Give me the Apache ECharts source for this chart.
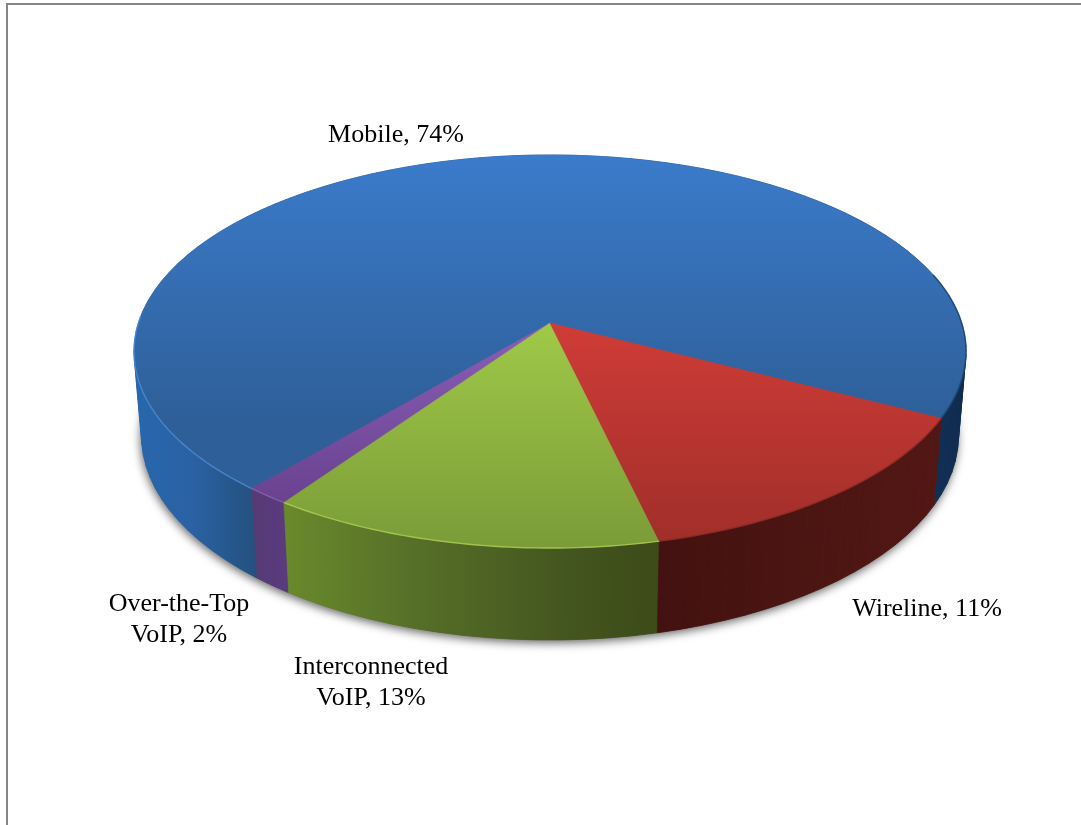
<!DOCTYPE html>
<html>
<head>
<meta charset="utf-8">
<style>html,body{margin:0;padding:0;background:#fff}#c{width:1081px;height:825px}</style>
<script src="https://cdn.jsdelivr.net/npm/echarts@6/dist/echarts.min.js"></script>
</head>
<body>
<div id="c"></div>
<script>
// Slices in drawing order, starting at the Mobile/Wireline boundary.
var categories = ['Mobile', 'Over-the-Top VoIP', 'Interconnected VoIP', 'Wireline'];
// Printed percentages (the labels of the reference).
var percentLabels = ['74%', '2%', '13%', '11%'];
// Share of the disc each slice visibly occupies.
var sliceShares = [71.5, 1.5, 13.3, 13.7];

var startAngle = 62.5;
var FONT = '"Liberation Serif","Times New Roman",serif';
var view = {cx: 550, cy: 323, rx: 411.6, ry: 192.4, k: 0.145,
            baseScaleX: 0.982, baseScaleY: 1.04, baseDrop: 83};

function topPoint(deg) {
  var t = deg * Math.PI / 180, u = Math.sin(t), v = Math.cos(t), w = 1 - view.k * v;
  return [view.cx + view.rx * u / w, view.cy + view.ry * v / w];
}
function basePoint(deg) {
  var p = topPoint(deg);
  return [view.cx + view.baseScaleX * (p[0] - view.cx),
          view.cy + view.baseDrop + view.baseScaleY * (p[1] - view.cy)];
}
function arc(fn, a, b) {
  var pts = [], n = Math.max(2, Math.ceil(Math.abs(b - a)));
  for (var i = 0; i <= n; i++) pts.push(fn(a + (b - a) * i / n));
  return pts;
}
function sliceRange(i) {
  var total = sliceShares.reduce(function (s, x) { return s + x; }, 0), a = startAngle;
  for (var j = 0; j < i; j++) a += sliceShares[j] / total * 360;
  return [a, a + sliceShares[i] / total * 360];
}
function hGrad(x, x2, stops) {
  return {type: 'linear', x: x, y: 0, x2: x2, y2: 0, global: true,
    colorStops: stops.map(function (s) { return {offset: s[0], color: s[1]}; })};
}
function vGrad(y, y2, c1, c2) {
  return {type: 'linear', x: 0, y: y, x2: 0, y2: y2, global: true,
    colorStops: [{offset: 0, color: c1}, {offset: 1, color: c2}]};
}
var wallFill = [
  hGrad(133, 966, [[0, '#2767ad'], [0.07, '#2a62a4'], [0.145, '#24517f'], [0.5, '#20477a'], [0.95, '#12325a'], [1, '#0f2a4d']]),
  hGrad(253, 288, [[0, '#553a74'], [1, '#5b3b80']]),
  hGrad(283, 659, [[0, '#6a8a2c'], [0.35, '#566f28'], [0.75, '#44561f'], [1, '#3c4b19']]),
  hGrad(659, 940, [[0, '#431110'], [0.5, '#4b1512'], [1, '#521714']])
];
var topFill = [
  vGrad(155, 420, '#3b7bcb', '#2e5f98'),
  vGrad(323, 500, '#8a5fb8', '#6a4290'),
  vGrad(323, 545, '#a0c948', '#7b9c38'),
  vGrad(323, 545, '#d03c37', '#a02e2a')
];
var rimColor = ['#4d8dd6', '#8a63b4', '#adcf55', '#8e2a26'];

function renderWall(params) {
  var i = params.dataIndex, r = sliceRange(i);
  var children = [];
  if (i === 0) {
    children.push({type: 'polygon', shape: {points: arc(basePoint, 0, 360)},
      style: {fill: '#555', shadowBlur: 10, shadowColor: 'rgba(0,0,0,0.6)', shadowOffsetX: -1, shadowOffsetY: 3}});
  }
  // the wall is built from narrow facets, so that its turn around the disc's sides fills in
  var step = 3, n = Math.ceil((r[1] - r[0]) / step);
  for (var s = 0; s < n; s++) {
    var a = r[0] + (r[1] - r[0]) * s / n, b = r[0] + (r[1] - r[0]) * (s + 1) / n;
    children.push({type: 'polygon',
      shape: {points: [topPoint(a), topPoint(b), basePoint(b), basePoint(a)]},
      style: {fill: wallFill[i], stroke: wallFill[i], lineWidth: 0.7}});
  }
  return {type: 'group', children: children};
}
function renderTop(params) {
  var i = params.dataIndex, r = sliceRange(i);
  var pts = arc(topPoint, r[0], r[1]);
  pts.push([view.cx, view.cy]);
  return {type: 'polygon', shape: {points: pts},
    style: {fill: topFill[i], stroke: topFill[i], lineWidth: 0.5}};
}
function renderRim(params) {
  var i = params.dataIndex, r = sliceRange(i);
  var children = [];
  // only the edge that faces the viewer catches light
  var a = i === 0 ? 268 : r[0];
  children.push({type: 'polyline', shape: {points: arc(topPoint, a, r[1])},
    style: {fill: null, stroke: rimColor[i], lineWidth: 1.4, opacity: 0.8}});
  if (i === 0) {
    // the far right of the Mobile rim falls into shade
    children.push({type: 'polyline', shape: {points: arc(topPoint, r[0], 105)},
      style: {fill: null, stroke: '#1d4472', lineWidth: 1.6, opacity: 0.8}});
  }
  return {type: 'group', children: children};
}

var labelText = [
  'Mobile, ' + percentLabels[0],
  'Over-the-Top\nVoIP, ' + percentLabels[1],
  'Interconnected\nVoIP, ' + percentLabels[2],
  'Wireline, ' + percentLabels[3]
];
var labelPos = [[396, 135], [179, 620], [371, 683], [927, 609]];
function renderLabel(params) {
  var i = params.dataIndex;
  return {type: 'text', x: labelPos[i][0], y: labelPos[i][1],
    style: {text: labelText[i], fill: '#000', font: '26px ' + FONT,
      align: 'center', verticalAlign: 'middle', lineHeight: 31}};
}

var rows = categories.map(function (c, i) { return {name: c, value: sliceShares[i]}; });
var chart = echarts.init(document.getElementById('c'), null, {renderer: 'canvas'});
function layer(fn) {
  return {type: 'custom', coordinateSystem: 'none', renderItem: fn, data: rows,
    animation: false, silent: true, clip: false};
}
chart.setOption({
  backgroundColor: '#ffffff',
  animation: false,
  graphic: [{type: 'polyline', silent: true,
    shape: {points: [[7, 825], [7, 4], [1081, 4]]},
    style: {fill: null, stroke: '#868686', lineWidth: 2}}],
  series: [layer(renderWall), layer(renderTop), layer(renderRim), layer(renderLabel)]
});
</script>
</body>
</html>
